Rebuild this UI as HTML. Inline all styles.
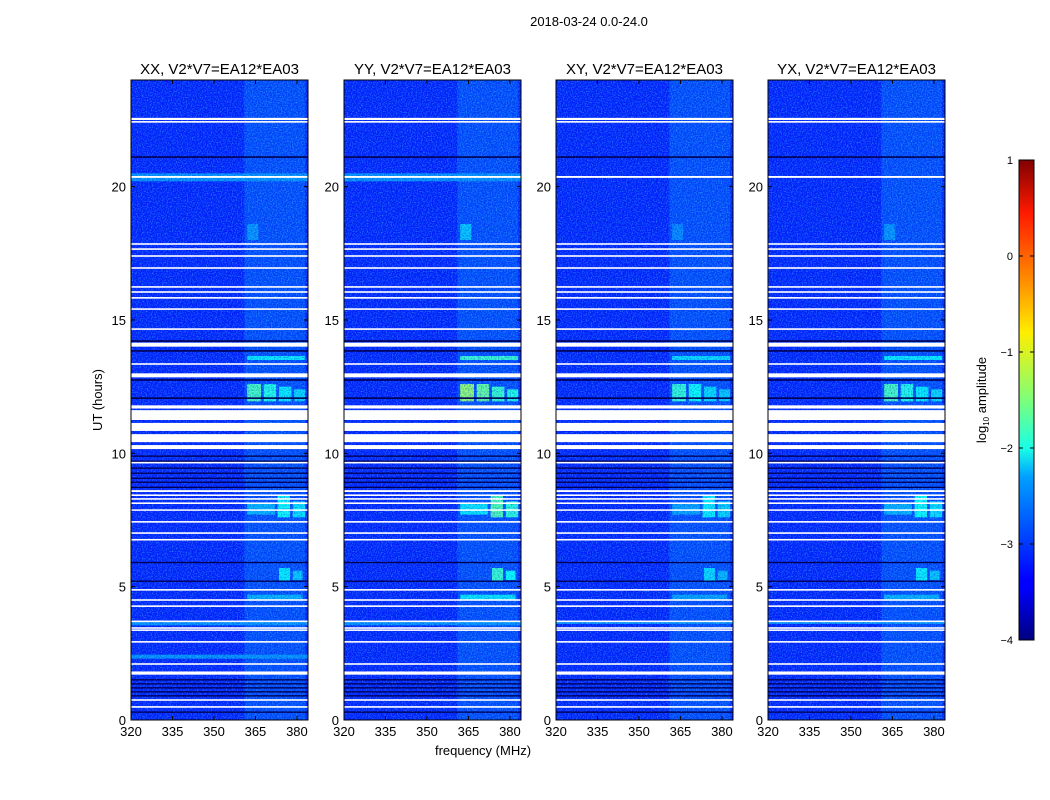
<!DOCTYPE html>
<html><head><meta charset="utf-8">
<style>
body{margin:0;background:#fff;}
svg{display:block;font-family:"Liberation Sans",sans-serif;}
</style></head>
<body>
<svg id="c" width="1050" height="800" viewBox="0 0 1050 800">
<defs>
<filter id="noise" x="0" y="0" width="100%" height="100%">
<feTurbulence type="fractalNoise" baseFrequency="0.8" numOctaves="1" seed="3" result="t"/>
<feColorMatrix type="matrix" values="0 0 0 0 0.1  0 0 0 0 0.75  0 0 0 0 1  2.2 0 0 0 -0.95"/>
</filter>
<filter id="noise2" x="0" y="0" width="100%" height="100%">
<feTurbulence type="fractalNoise" baseFrequency="0.7" numOctaves="1" seed="11" result="t"/>
<feColorMatrix type="matrix" values="0 0 0 0 0  0 0 0 0 0  0 0 0 0 0.6  2.2 0 0 0 -0.95"/>
</filter>
<linearGradient id="jet" x1="0" y1="1" x2="0" y2="0">
<stop offset="0" stop-color="#00007f"/><stop offset="0.11" stop-color="#0000ff"/>
<stop offset="0.125" stop-color="#0000ff"/><stop offset="0.34" stop-color="#00a0ff"/>
<stop offset="0.4" stop-color="#1affe6"/><stop offset="0.5" stop-color="#7dff7a"/>
<stop offset="0.64" stop-color="#ffee00"/><stop offset="0.75" stop-color="#ff8c00"/>
<stop offset="0.89" stop-color="#ff1a00"/><stop offset="1" stop-color="#800000"/>
</linearGradient>
</defs>
<text x="589" y="26" font-size="13" text-anchor="middle">2018-03-24 0.0-24.0</text>
<text x="483" y="755" font-size="13" text-anchor="middle">frequency (MHz)</text>
<text transform="translate(102,400) rotate(-90)" font-size="13" text-anchor="middle">UT (hours)</text>
<g id="panels"></g>
<g id="cbar"></g>
</svg>
<script>
const panelTitles = ["XX, V2*V7=EA12*EA03","YY, V2*V7=EA12*EA03","XY, V2*V7=EA12*EA03","YX, V2*V7=EA12*EA03"];
const xTicks = [320,335,350,365,380];
const yTicks = [0,5,10,15,20];
// flagged (white) time ranges, hours
const flagTimes = [[22.5,22.58],[22.4,22.46],[20.33,20.4],[17.82,17.88],[17.63,17.69],[17.37,17.43],[16.92,16.98],[16.21,16.27],[16.02,16.08],[15.8,15.86],[15.38,15.44],[14.63,14.69],[14.0,14.15],[13.32,13.38],[12.85,13.0],[11.68,11.8],[11.25,11.62],[10.84,11.14],[10.42,10.72],[10.16,10.31],[9.62,9.68],[8.55,8.62],[8.4,8.46],[8.26,8.32],[8.1,8.16],[7.85,7.9],[7.4,7.46],[6.98,7.04],[6.73,6.79],[4.85,4.91],[4.47,4.53],[4.24,4.3],[3.67,3.73],[3.42,3.48],[3.34,3.4],[2.9,2.96],[2.07,2.13],[1.7,1.82],[0.72,0.78],[0.46,0.52]];
// dark (low-amplitude) time lines, hours
const darkTimes = [[21.08,21.14],[14.18,14.24],[13.81,13.87],[12.72,12.78],[12.04,12.1],[9.87,9.92],[9.68,9.73],[9.42,9.47],[9.23,9.28],[9.04,9.09],[8.89,8.94],[8.7,8.75],[5.88,5.93],[5.18,5.23],[1.48,1.53],[1.33,1.38],[1.18,1.23],[1.03,1.08],[0.88,0.93],[0.27,0.32]];
// bright time-frequency patches: [t0,t1,f0,f1,level(0-1 of colour)]
const patches = [[11.95,12.6,362,367,0.44],[11.95,12.6,368,372.5,0.4],[11.95,12.5,373.5,378,0.36],[11.95,12.4,379,383,0.34],[13.5,13.65,362,383,0.36],[7.6,8.4,373,377.5,0.38],[7.6,8.2,378.5,383,0.35],[7.7,8.1,362,372,0.3],[5.2,5.7,373.5,377.5,0.36],[5.25,5.6,378.5,382,0.32],[4.5,4.7,362,382,0.3],[18,18.6,362,366,0.27]];
// panel brightness factor for patches
const panelGain = [1.0,1.18,0.95,1.0];
// broadband light (cyan) time bands per panel
const lightBands = [[[20.2,20.5],[3.55,3.7],[2.3,2.45]],[[20.2,20.5],[3.55,3.7]],[[3.6,3.7]],[[3.6,3.7]]];
const panelX = [131,344,556,768];
const NS="http://www.w3.org/2000/svg";
const PW=177, PT=80, PB=720, F0=320, F1=384, T1=24;
function fx(x0,f){return x0+(f-F0)*PW/(F1-F0);}
function ty(t){return PB-t*(PB-PT)/T1;}
function jet(v){
  const r=Math.min(1,Math.max(0,Math.min(4*v-1.5,-4*v+4.5)));
  const g=Math.min(1,Math.max(0,Math.min(4*v-0.5,-4*v+3.5)));
  const b=Math.min(1,Math.max(0,Math.min(4*v+0.5,-4*v+2.5)));
  return `rgb(${Math.round(r*255)},${Math.round(g*255)},${Math.round(b*255)})`;
}
function el(tag,attrs,parent){const e=document.createElementNS(NS,tag);for(const k in attrs)e.setAttribute(k,attrs[k]);parent.appendChild(e);return e;}
const root=document.getElementById('panels');
panelTitles.forEach((title,i)=>{
  const x0=panelX[i];
  const g=el('g',{},root);
  
  
  const bg=el('rect',{x:x0,y:PT,width:PW,height:PB-PT,fill:jet(0.16)},g);
  
  
  const band=el('rect',{x:fx(x0,361),y:PT,width:fx(x0,383)-fx(x0,361),height:PB-PT,fill:jet(0.2)},g);
  
  
  lightBands[i].forEach(b=>{
    const r=el('rect',{x:x0,y:ty(b[1]),width:PW,height:ty(b[0])-ty(b[1]),fill:jet(0.27)},g);
    
    
  });
  patches.forEach(p=>{
    const r=el('rect',{x:fx(x0,p[2]),y:ty(p[1]),width:fx(x0,p[3])-fx(x0,p[2]),height:ty(p[0])-ty(p[1]),fill:jet(Math.min(0.6,p[4]*panelGain[i]))},g);
    
    
  });
  const nz=el('rect',{x:x0,y:PT,width:PW,height:PB-PT,filter:'url(#noise)',opacity:0.6},g);
  
  
  const nz2=el('rect',{x:x0,y:PT,width:PW,height:PB-PT,filter:'url(#noise2)',opacity:0.5},g);
  
  
  darkTimes.forEach(d=>{
    const r=el('rect',{x:x0,y:ty(d[1]),width:PW,height:Math.max(1,ty(d[0])-ty(d[1])),fill:'#000050'},g);
    
    
  });
  flagTimes.forEach(d=>{
    const r=el('rect',{x:x0,y:ty(d[1]),width:PW,height:Math.max(1.5,ty(d[0])-ty(d[1])),fill:'#fff'},g);
    
    
  });
  const fr=el('rect',{x:x0,y:PT,width:PW,height:PB-PT,fill:'none',stroke:'#000','stroke-width':1},g);
  
  
  const tt=el('text',{x:x0+PW/2,y:74,'font-size':15,'text-anchor':'middle'},g);
  tt.textContent=title;
  
  
  xTicks.forEach(f=>{
    const x=fx(x0,f);
    el('line',{x1:x,x2:x,y1:PB,y2:PB-4,stroke:'#000'},g);
    el('line',{x1:x,x2:x,y1:PT,y2:PT+4,stroke:'#000'},g);
    const t=el('text',{x:x,y:PB+16,'font-size':13,'text-anchor':'middle'},g);
    t.textContent=f;
    
    
  });
  yTicks.forEach(v=>{
    const y=ty(v);
    el('line',{x1:x0,x2:x0+4,y1:y,y2:y,stroke:'#000'},g);
    el('line',{x1:x0+PW,x2:x0+PW-4,y1:y,y2:y,stroke:'#000'},g);
    const t=el('text',{x:x0-5,y:y+5,'font-size':13,'text-anchor':'end'},g);
    t.textContent=v;
    
    
  });
});
// colorbar
const cbTicks=[-4,-3,-2,-1,0,1];
const cb=document.getElementById('cbar');
const cbr=el('rect',{x:1019,y:160,width:15,height:480,fill:'url(#jet)',stroke:'#000','stroke-width':1},cb);


cbTicks.forEach(v=>{
  const y=640-(v+4)*480/5;
  el('line',{x1:1019,x2:1023,y1:y,y2:y,stroke:'#000'},cb);
  el('line',{x1:1034,x2:1030,y1:y,y2:y,stroke:'#000'},cb);
  const t=el('text',{x:1013,y:y+4,'font-size':11,'text-anchor':'end'},cb);
  t.textContent=v<0?'\u2212'+(-v):v;
  
  
});
const cl=el('text',{transform:'translate(986,400) rotate(-90)','font-size':13,'text-anchor':'middle'},cb);
cl.innerHTML='log<tspan font-size="8" dy="3">10</tspan><tspan dy="-3"> amplitude</tspan>';


</script>
</body></html>
